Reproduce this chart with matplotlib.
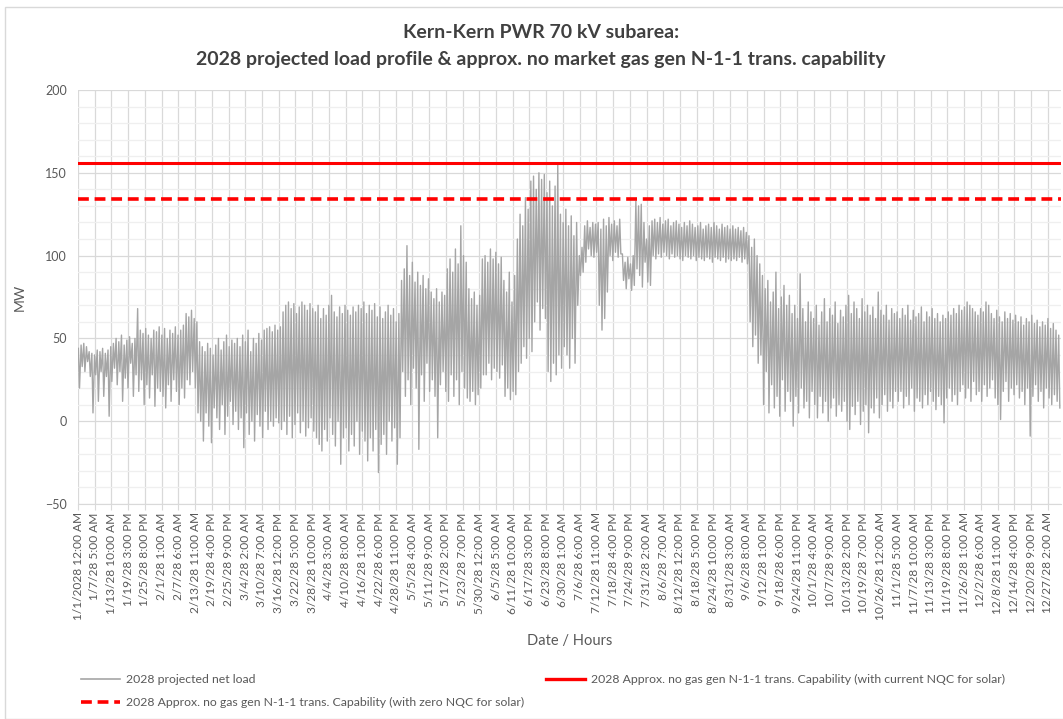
import numpy as np
import pandas as pd
import matplotlib
matplotlib.use('Agg')
import matplotlib.pyplot as plt
from matplotlib.lines import Line2D
from matplotlib.patches import Rectangle

plt.rcParams['font.family'] = ['Lato', 'DejaVu Sans']

# daily high / low of the 2028 projected net load (MW)
# (the source profile has 8760 hours, Feb 29 is not in it)
jan_hi = [44, 46, 47, 45, 42, 41, 40, 43, 42, 44, 41, 43, 45, 47, 50, 48, 52, 46, 49, 51, 47, 50, 68, 55, 53, 56, 52, 50, 55, 54, 57]
jan_lo = [20, 33, 30, 36, 27, 5, 28, 12, 30, 15, 27, 3, 24, 32, 22, 30, 12, 26, 20, 35, 15, 28, 18, 25, 10, 22, 14, 28, 9, 20, 18]
feb_hi = [52, 56, 50, 55, 53, 57, 52, 55, 58, 65, 63, 67, 62, 60, 48, 45, 42, 47, 44, 40, 46, 50, 43, 48, 52, 45, 49, 47]
feb_lo = [15, 8, 22, 12, 25, 18, 10, 20, 14, 25, 22, 30, 20, 5, 0, -12, 5, -3, -13, 8, 2, -5, 10, -8, 3, 12, -2, 6]
mar_hi = [50, 45, 52, 48, 55, 42, 50, 47, 53, 49, 55, 56, 57, 54, 58, 55, 57, 66, 70, 72, 68, 71, 65, 69, 72, 70, 67, 71, 68, 66, 70]
mar_lo = [-5, 2, -16, 5, -8, 0, -12, 4, -3, -10, 6, -5, 0, -3, 2, -1, -5, 0, -8, 3, -10, -2, 5, -7, 0, -9, -4, 2, -6, -10, -14]
apr_hi = [62, 68, 64, 70, 76, 66, 63, 69, 65, 70, 67, 64, 69, 66, 70, 68, 72, 65, 70, 67, 71, 63, 69, 62, 66, 70, 64, 68, 60, 65]
apr_lo = [-18, -5, -12, 2, -8, -15, 0, -26, -10, -4, -18, -8, -15, 0, -20, -6, -12, -24, -10, -18, -5, -31, -14, -8, -20, 0, -12, -4, -26, -10]
may_hi = [85, 92, 106, 88, 96, 84, 90, 82, 88, 80, 86, 78, 74, 80, 72, 78, 76, 92, 98, 90, 104, 95, 118, 100, 96, 80, 74, 78, 70, 76, 98]
may_lo = [30, 15, 25, 10, 32, 20, -17, 28, 12, 35, 18, 25, 15, -10, 22, 30, 18, 12, 28, 15, 25, 10, 30, 20, 14, 12, 18, 10, 16, 20, 28]
jun_hi = [100, 96, 104, 98, 102, 95, 99, 85, 78, 90, 72, 88, 110, 125, 118, 135, 128, 145,
          148, 140, 150, 146, 149, 138, 145, 130, 142, 155, 125, 120]
jun_lo = [28, 35, 25, 32, 30, 26, 34, 15, 20, 13, 18, 16, 30, 35, 45, 38, 50, 42,
          60, 72, 55, 68, 62, 30, 24, 35, 28, 40, 32, 45]
jul_hi = [128, 118, 124, 112, 120, 100, 105, 118, 121, 117, 120, 119, 120, 116, 122, 118,
          123, 119, 121, 118, 122, 101, 96, 99, 95, 100, 133, 130, 131, 120, 110]
jul_lo = [40, 32, 50, 35, 70, 88, 90, 96, 104, 100, 99, 102, 70, 55, 62, 78,
          100, 97, 102, 99, 101, 85, 80, 86, 79, 82, 92, 88, 81, 96, 84]
aug_hi = [118, 121, 122, 120, 123, 119, 121, 122, 118, 120, 121, 119, 117, 120, 118, 121, 119, 117, 118, 120, 116, 118, 119, 117, 120, 118, 116, 119, 117, 118, 116]
aug_lo = [82, 100, 98, 101, 99, 102, 100, 98, 101, 99, 100, 98, 97, 100, 99, 98, 100, 97, 99, 98, 97, 99, 98, 96, 99, 98, 97, 99, 96, 98, 97]
sep_hi = [118, 116, 117, 115, 117, 114, 112, 105, 110, 100, 95, 88, 80, 85, 72, 78, 90, 68, 75, 82, 70, 76,
          65, 70, 62, 89, 68, 60, 72, 66]
sep_lo = [98, 97, 99, 96, 98, 95, 60, 45, 52, 35, 40, 10, 30, 5, 22, 8, 15, 3, 25, 6, 18, 12,
          -3, 15, 5, 20, 8, 12, 2, 18]
oct_hi = [62, 70, 58, 66, 74, 60, 68, 64, 72, 59, 67, 63, 70, 76, 65, 72, 68, 62, 74, 66, 70, 64, 69, 62, 78, 67, 64, 70, 61, 68, 65]
oct_lo = [10, 2, 15, 5, 12, 0, 8, 14, 3, 10, 6, 12, 0, -5, 9, 4, 12, -2, 6, 10, -7, 8, 5, 14, 2, 10, 16, 6, 12, 8, 18]
nov_hi = [66, 62, 68, 64, 70, 61, 67, 63, 65, 69, 60, 66, 63, 68, 62, 65, 60, 64, 62, 66, 64, 68, 65, 70, 67, 69, 72, 70, 68, 66]
nov_lo = [12, 18, 8, 15, 10, 20, 6, 14, 12, 8, 16, 10, 18, 12, 7, 15, 10, -1, 14, 20, 12, 16, 10, 18, 22, 14, 20, 12, 24, 16]
dec_hi = [64, 68, 66, 72, 70, 65, 62, 67, 63, 60, 66, 62, 65, 61, 64, 60, 63, 58, 62, 60, 64, 59, 61, 57, 60, 58, 62, 56, 59, 55, 52]
dec_lo = [18, 12, 22, 15, 20, 25, 14, 10, 1, 18, 24, 12, 20, 16, 22, 14, 18, 10, 20, -9, 15, 22, 12, 18, 8, 20, 14, 10, 16, 12, 8]

cap_current_nqc = 156   # MW, solid red
cap_zero_nqc = 134      # MW, dashed red

# hourly category axis, one label every 149 hours
hours = pd.date_range('2028-01-01 00:00', '2028-12-31 23:00', freq='h')
hours = hours[~((hours.month == 2) & (hours.day == 29))]
n_hours = len(hours)
tick_hours = np.arange(0, n_hours, 149)
tick_labels = [f"{t.month}/{t.day}/{t.strftime('%y')} {t.strftime('%I').lstrip('0')}:{t.strftime('%M %p')}"
               for t in hours[tick_hours]]
tick_labels[0] = '1/1/2028 12:00 AM'

daily_hi = np.array(jan_hi + feb_hi + mar_hi + apr_hi + may_hi + jun_hi
                    + jul_hi + aug_hi + sep_hi + oct_hi + nov_hi + dec_hi)
daily_lo = np.array(jan_lo + feb_lo + mar_lo + apr_lo + may_lo + jun_lo
                    + jul_lo + aug_lo + sep_lo + oct_lo + nov_lo + dec_lo)
days = np.arange(len(daily_hi))
x = np.column_stack([days * 24 + 3, days * 24 + 13]).ravel()
y = np.column_stack([daily_hi, daily_lo]).ravel()

fig = plt.figure(figsize=(10.63, 7.19), dpi=100)
ax = fig.add_axes([78 / 1063, 1 - 504 / 719, 983 / 1063, 414 / 719])

ax.plot(x, y, color='#A5A5A5', lw=1.0, zorder=3)
ax.axhline(cap_current_nqc, color='#FF0000', lw=2.2, zorder=4)
ax.axhline(cap_zero_nqc, color='#FF0000', lw=2.6, ls=(0, (3, 1.6)), zorder=4)

ax.set_xlim(-0.5, n_hours - 0.5)
ax.set_ylim(-50, 200)
ax.set_yticks(np.arange(-50, 201, 50))
ax.set_yticks(np.arange(-50, 201, 10), minor=True)
ax.set_xticks(tick_hours)
ax.set_xticklabels(tick_labels, rotation=90, fontsize=8.6, color='#595959')
ax.tick_params(axis='y', which='both', length=0, labelsize=9, labelcolor='#595959', pad=8)
ax.tick_params(axis='x', length=4, color='#D9D9D9', pad=2)
ax.grid(which='major', color='#D9D9D9', lw=0.9)
ax.grid(which='minor', axis='y', color='#EFEFEF', lw=0.9)
ax.set_axisbelow(True)
for s in ['top', 'right', 'left']:
    ax.spines[s].set_visible(False)
ax.spines['bottom'].set_color('#D9D9D9')

ax.set_ylabel('MW', fontsize=10, color='#595959', labelpad=14)
ax.set_xlabel('Date / Hours', fontsize=10.5, color='#595959', labelpad=10)

fig.text(541 / 1063, 1 - 32 / 719, 'Kern-Kern PWR 70 kV subarea:', ha='center', va='center',
         fontsize=14, fontweight='bold', color='#404040')
fig.text(541 / 1063, 1 - 59 / 719,
         '2028 projected load profile & approx. no market gas gen N-1-1 trans. capability',
         ha='center', va='center', fontsize=14, fontweight='bold', color='#404040')

h_net = Line2D([], [], color='#A5A5A5', lw=1.2)
h_zero = Line2D([], [], color='#FF0000', lw=2.6, ls=(0, (3, 1.6)))
h_cur = Line2D([], [], color='#FF0000', lw=2.4)
leg_kw = dict(frameon=False, fontsize=8.8, labelcolor='#595959', handlelength=3.2,
              handletextpad=0.5, labelspacing=1.0, borderaxespad=0)
fig.legend([h_net, h_zero],
           ['2028 projected net load',
            '2028 Approx. no gas gen N-1-1 trans. Capability (with zero NQC for solar)'],
           loc='upper left', bbox_to_anchor=(76 / 1063, 1 - 669 / 719), **leg_kw)
fig.legend([h_cur],
           ['2028 Approx. no gas gen N-1-1 trans. Capability (with current NQC for solar)'],
           loc='upper left', bbox_to_anchor=(541 / 1063, 1 - 669 / 719), **leg_kw)

fig.patches.append(Rectangle((5 / 1063, 0), 1, 1 - 7 / 719, transform=fig.transFigure,
                             fill=False, ec='#D9D9D9', lw=1))

fig.savefig('out.png', dpi=100)
